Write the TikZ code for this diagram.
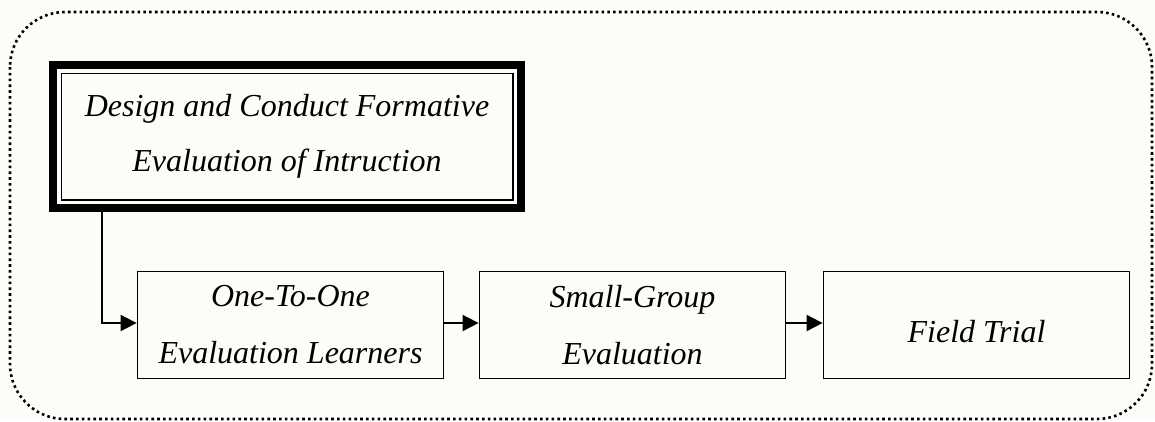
\documentclass[tikz,border=0pt]{standalone}
\usepackage{fontspec}
\setmainfont{Liberation Serif}
\usetikzlibrary{arrows.meta,calc}
\definecolor{paper}{RGB}{252,253,248}
\tikzset{
  stage/.style={draw, line width=1.8pt, minimum width=306pt, minimum height=107pt,
    inner sep=0pt, align=center, font=\fontsize{32}{57}\selectfont\itshape},
  flow/.style={line width=1.9pt, -{Triangle[length=16pt,width=16pt]}},
  frame/.style={line width=2.6pt, dash pattern=on 2.6pt off 3.2pt, rounded corners=55pt},
}
\begin{document}
\begin{tikzpicture}[x=1pt,y=-1pt]
  \fill[paper] (0,0) rectangle (1155,421);
  \useasboundingbox (0,0) rectangle (1155,421);
  % dotted outer frame
  \draw[frame] (10,12) rectangle (1152,419);
  % framed heading box: thick outer line with a thin inner rule
  \node[draw, line width=8pt, outer sep=0pt, minimum width=468pt, minimum height=143pt, inner sep=0pt,
        align=center, font=\fontsize{32}{55}\selectfont\itshape]
    (design) at (287,136.5) {Design and Conduct Formative\\Evaluation of Intruction};
  \draw[line width=1.6pt] ($(design.north west)+(8.3,8.3)$) rectangle ($(design.south east)+(-8.3,-8.3)$);
  % evaluation stages
  \node[stage] (one)   at (290.5,325) {One-To-One\\Evaluation Learners};
  \node[stage] (small) at (632.5,325) {Small-Group\\Evaluation};
  \node[stage, text height=34pt, text depth=0pt] (field) at (976.5,325) {Field Trial};
  % connectors
  \draw[flow] ([xshift=49pt]design.south west) |- ([yshift=2pt]one.west);
  \draw[flow] ([yshift=2pt]one.east) -- ([yshift=2pt]small.west);
  \draw[flow] ([yshift=2pt]small.east) -- ([yshift=2pt]field.west);
\end{tikzpicture}
\end{document}
